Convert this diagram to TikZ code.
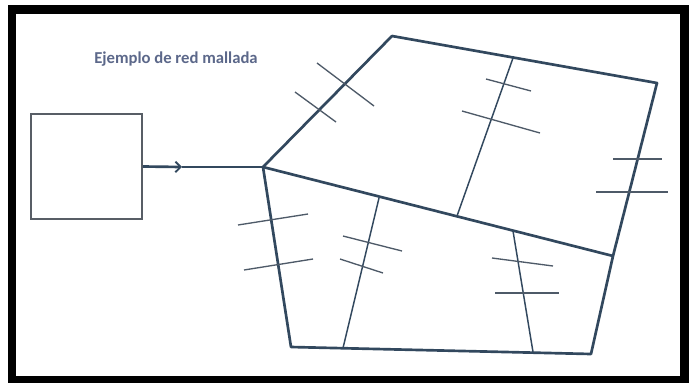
\documentclass[tikz,border=0pt]{standalone}
\usepackage{fontspec}
\setmainfont{Carlito}
\usetikzlibrary{arrows.meta,positioning}
\definecolor{meshblue}{RGB}{50,72,94}
\definecolor{tickgray}{RGB}{78,90,104}
\definecolor{boxgray}{RGB}{88,94,102}
\definecolor{titleblue}{RGB}{92,104,138}

\begin{document}
\begin{tikzpicture}[
    x=0.75pt, y=-0.75pt,
    edge/.style={line width=2pt, meshblue, line join=round},
    link/.style={line width=1.1pt, meshblue},
    tick/.style={line width=1pt, tickgray},
    source/.style={draw=boxgray, line width=1.5pt, minimum width=83pt, minimum height=79pt, inner sep=0pt}
]
\useasboundingbox (0,0) rectangle (689,383);
% Frame
\fill[black] (8,5) rectangle (689,383);
\fill[white] (16,14) rectangle (680,376);

% Title
\node[font=\fontsize{12.5}{14}\selectfont\bfseries, text=titleblue] (title) at (176,59) {Ejemplo de red mallada};

% Source and feed
\node[source] (src) at (86.5,166.5) {};
\coordinate (hub) at (263,167);
\coordinate (feed) at (182,167);
\draw[edge, -{Straight Barb[length=4pt, width=8pt, line width=1.4pt]}] (src.east) -- (feed);
\draw[edge] (feed) -- (hub);

% Mesh corners
\coordinate (top) at (392,36);
\coordinate (ne) at (657,83);
\coordinate (rmid) at (613,256);
\coordinate (se) at (591,354);
\coordinate (sw) at (291,347);
\draw[edge] (hub) -- (top) -- (ne) -- (rmid) -- (se) -- (sw) -- cycle;
\draw[edge] (hub) -- (rmid);

% Inner links
\coordinate (d1) at (457,216);
\coordinate (t1) at (513,58);
\coordinate (d2) at (379,198);
\coordinate (b2) at (343,348);
\coordinate (d3) at (513,231);
\coordinate (b3) at (533,352);
\draw[link] (d1) -- (t1);
\draw[link] (d2) -- (b2);
\draw[link] (d3) -- (b3);

% Cross marks
\foreach \xa/\ya/\xb/\yb in {317/63/374/106, 295/92/336/122,
    486/79/531/91, 462/111/540/133, 613/159/662/159, 596/192/668/192,
    238/225/308/214, 244/270/313/259, 343/236/402/251, 340/259/383/273,
    492/258/553/266, 495/293/559/293}
  \draw[tick] (\xa,\ya) -- (\xb,\yb);

\end{tikzpicture}
\end{document}
